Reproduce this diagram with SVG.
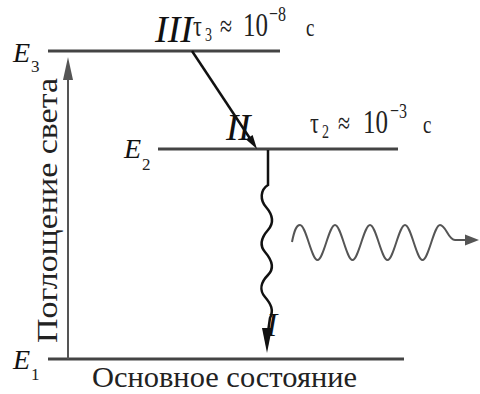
<svg xmlns="http://www.w3.org/2000/svg" width="480" height="394" viewBox="0 0 480 394">
<style>
.lvl{stroke:#444;stroke-width:3;fill:none}
text{font-family:'Liberation Serif','DejaVu Serif',serif;fill:#222}
.it{font-style:italic;fill:#111}
.gray{stroke:#555;stroke-width:2;fill:none}
.blk{stroke:#111;stroke-width:2.5;fill:none}
</style>
<rect width="480" height="394" fill="#fff"/>
<g id="E3" font-family="Liberation Serif, DejaVu Serif, serif">
<line class="lvl" x1="48" y1="51" x2="280" y2="51"/>
<text class="it" x="13" y="62" font-size="28">E</text>
<text x="31" y="72" font-size="17">3</text>
<text class="it" x="155" y="42" font-size="38">III</text>
<g transform="translate(0,36) scale(1,1.35)">
<text x="193" y="0" font-size="22">τ</text>
<text x="205" y="4" font-size="14">3</text>
<text x="220" y="0" font-size="22">≈</text>
<text x="243" y="0" font-size="25">10</text>
<text x="269" y="-11" font-size="16">−8</text>
<text x="306" y="0" font-size="19">с</text>
</g>
</g>
<g id="E2" font-family="Liberation Serif, DejaVu Serif, serif">
<line class="lvl" x1="158" y1="149" x2="398" y2="149"/>
<text class="it" x="124" y="158" font-size="28">E</text>
<text x="142" y="170" font-size="17">2</text>
<text class="it" x="226" y="140" font-size="37">II</text>
<g transform="translate(0,133) scale(1,1.35)">
<text x="310" y="0" font-size="22">τ</text>
<text x="322" y="4" font-size="14">2</text>
<text x="338" y="0" font-size="22">≈</text>
<text x="363" y="0" font-size="25">10</text>
<text x="390" y="-11" font-size="16">−3</text>
<text x="423" y="0" font-size="19">с</text>
</g>
</g>
<g id="E1" font-family="Liberation Serif, DejaVu Serif, serif">
<line class="lvl" x1="48" y1="359" x2="404" y2="359" stroke="#222"/>
<text class="it" x="13" y="369" font-size="28">E</text>
<text x="31" y="380" font-size="17">1</text>
<text class="it" x="266" y="336" font-size="34">I</text>
<text x="92" y="387" font-size="29" textLength="265" lengthAdjust="spacingAndGlyphs">Основное состояние</text>
</g>
<g id="connectors" font-family="Liberation Serif, DejaVu Serif, serif">
<line class="gray" x1="68" y1="359" x2="68" y2="76"/>
<polygon points="68,57 63,80 73,80" fill="#555"/>
<text transform="translate(57,343) rotate(-90)" font-size="30" textLength="265" lengthAdjust="spacingAndGlyphs">Поглощение света</text>
<line class="blk" x1="192" y1="51" x2="251" y2="140"/>
<polygon points="257,149 246,139.5 252.6,135.1" fill="#111"/>
<path class="blk" d="M268,150 V185 C260,190 260,200 266,207 S275,222 268,230 S259,245 265,252 S275,268 268,275 S259,290 265,297 S274,310 270,318 L268,332"/>
<polygon points="267,353 262,328 272,328" fill="#111"/>
<path class="gray" d="M292,242 C294,232 296,225 300,225 C306,225 311.5,260 317.5,260 C323.5,260 329,225 335,225 C341,225 346.5,260 352.5,260 C358.5,260 364,225 370,225 C376,225 381.5,260 387.5,260 C393.5,260 399,225 405,225 C411,225 416.5,260 422.5,260 C428.5,260 434,225 440,225 C446,225 448,240 455,240 H466"/>
<polygon points="479,240 465,234.5 465,245.5" fill="#555"/>
</g>
</svg>
